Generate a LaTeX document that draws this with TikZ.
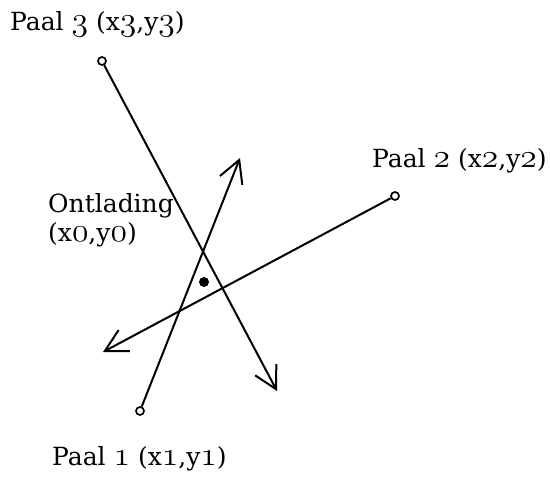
\documentclass[tikz,border=0pt]{standalone}
\usepackage{fontspec}
\setmainfont{DejaVu Serif}
\usepackage{tikz}
\usetikzlibrary{arrows.meta}

\newcommand{\osn}[1]{\scalebox{1.35}{\usefont{OML}{cmm}{m}{it}#1}}

\begin{document}
\begin{tikzpicture}[x=1pt, y=-1pt,
  pole/.style={draw, circle, line width=1.7pt, fill=white, inner sep=0pt, minimum size=8pt},
  ray/.style={line width=2pt, -{Straight Barb[length=22pt, width=24pt, line width=2pt]}},
  lbl/.style={anchor=base west, inner sep=0pt, font=\fontsize{25}{26}\selectfont}
]
\useasboundingbox (0,0) rectangle (550,481);

% palen en richtingen
\node[pole] (p3) at (102,61) {};
\node[pole] (p2) at (395,196) {};
\node[pole] (p1) at (140,411) {};
\coordinate (e3) at (277,391);
\coordinate (e2) at (103,352);
\coordinate (e1) at (240,158);

\draw[ray] (p3) -- (e3);
\draw[ray] (p2) -- (e2);
\draw[ray] (p1) -- (e1);

\fill (204,282) circle (5pt) coordinate (src);

% labels
\node[lbl] (l3) at (10,31) {Paal \osn{3} (x\osn{3},y\osn{3})};
\node[lbl] (l2) at (372,168) {Paal \osn{2} (x\osn{2},y\osn{2})};
\node[lbl, align=left] (l0) at (48,242) {Ontlading\\[3pt](x\osn{0},y\osn{0})};
\node[lbl] (l1) at (52,466) {Paal \osn{1} (x\osn{1},y\osn{1})};
\end{tikzpicture}
\end{document}
